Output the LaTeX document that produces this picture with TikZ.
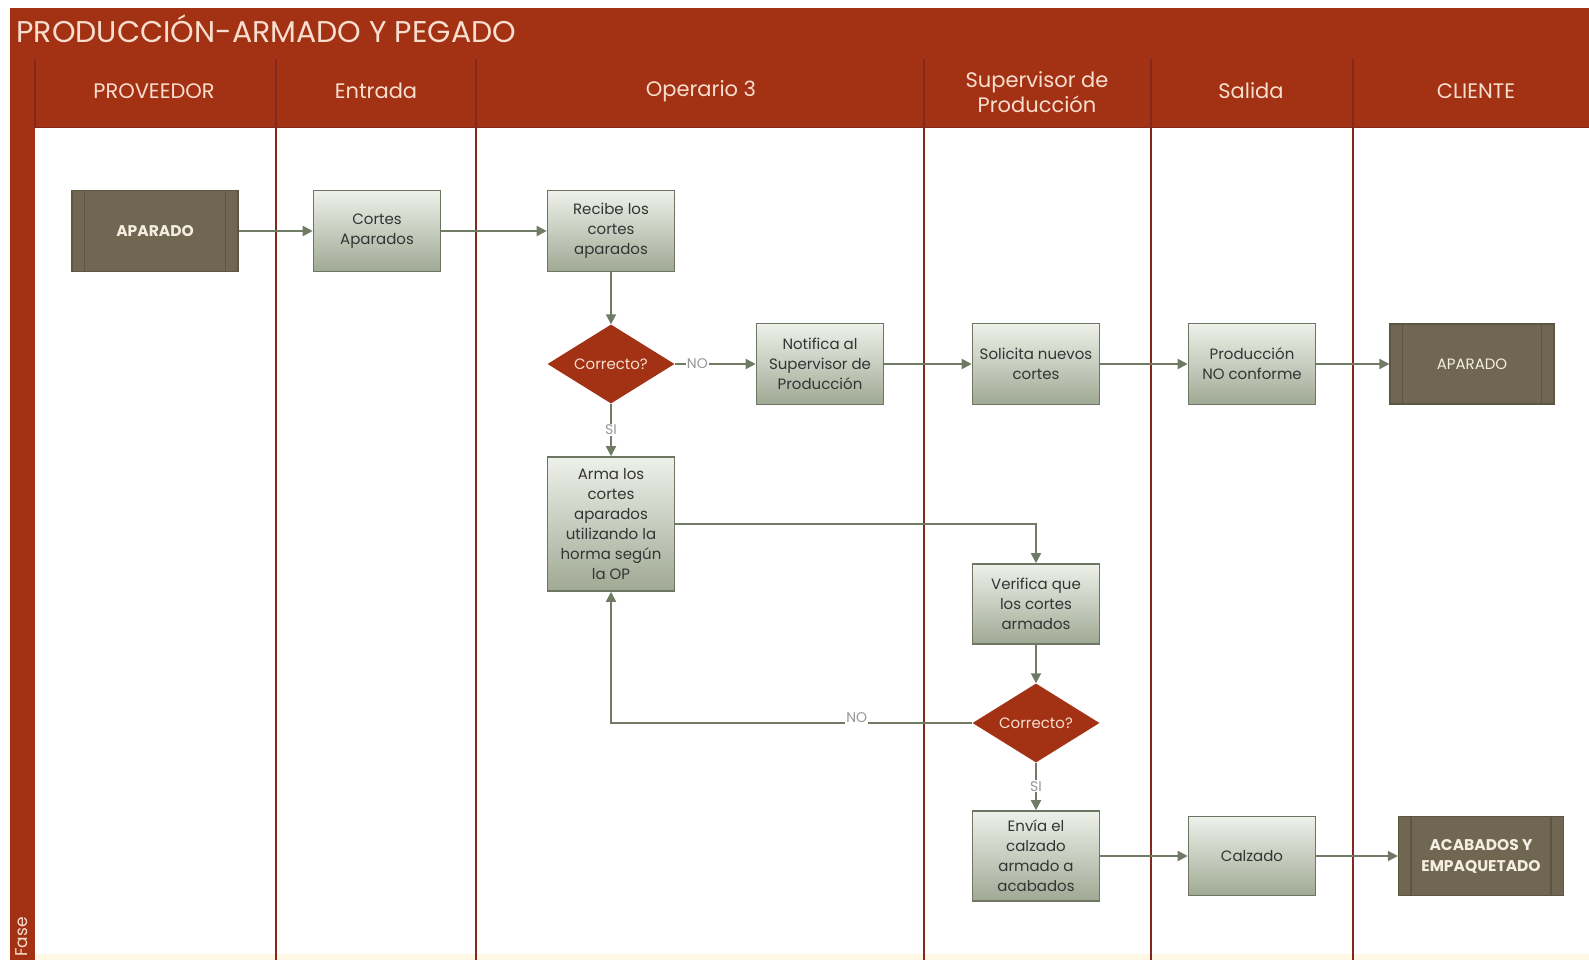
\documentclass[tikz,border=0pt]{standalone}
\usepackage{fontspec}
\setmainfont{Poppins}
\usetikzlibrary{shapes.geometric,arrows.meta,calc}

\definecolor{lanered}{RGB}{163,49,20}
\definecolor{laneline}{RGB}{130,40,28}
\definecolor{hdrtext}{RGB}{248,222,206}
\definecolor{boxtop}{RGB}{238,241,234}
\definecolor{boxbot}{RGB}{160,169,148}
\definecolor{boxedge}{RGB}{108,118,98}
\definecolor{boxtext}{RGB}{52,52,52}
\definecolor{darkfill}{RGB}{112,103,82}
\definecolor{darkedge}{RGB}{92,85,66}
\definecolor{darktext}{RGB}{245,238,225}
\definecolor{conn}{RGB}{112,122,100}
\definecolor{lblgray}{RGB}{150,150,150}
\definecolor{bottomband}{RGB}{253,247,228}

\tikzset{
  stepbox/.style={draw=boxedge, line width=1.6pt, top color=boxtop, bottom color=boxbot,
    minimum width=127pt, minimum height=81pt, inner sep=2pt, align=center,
    text=boxtext, font=\fontsize{15}{20}\selectfont},
  extbox/.style={draw=darkedge, line width=1.2pt, fill=darkfill,
    minimum width=166pt, minimum height=81pt, inner sep=2pt, align=center,
    text=darktext, font=\fontsize{14}{20}\selectfont},
  boldlabel/.style={font=\fontsize{15.5}{21}\selectfont\bfseries},
  decision/.style={diamond, aspect=1.6, fill=lanered, draw=none,
    minimum width=127pt, minimum height=79pt, inner sep=0pt,
    text=hdrtext, font=\fontsize{15}{18}\selectfont},
  hdr/.style={text=hdrtext, font=\fontsize{21}{25}\selectfont, align=center},
  conn/.style={draw=conn, line width=1.8pt, -{Triangle[length=10pt,width=10pt]}},
  lbl/.style={fill=white, text=lblgray, inner sep=1pt, font=\fontsize{14}{14}\selectfont},
  divider/.style={draw=laneline, line width=2pt},
}

% draws the inner side bars of an external-process box
\newcommand{\sidebars}[1]{%
  \draw[darkedge, line width=1.4pt] ([xshift=13pt]#1.north west) -- ([xshift=13pt]#1.south west);
  \draw[darkedge, line width=1.4pt] ([xshift=-13pt]#1.north east) -- ([xshift=-13pt]#1.south east);
}

\begin{document}
\begin{tikzpicture}[x=1pt,y=-1pt]
\useasboundingbox (0,0) rectangle (1589,960);
\fill[white] (0,0) rectangle (1589,960);
\fill[bottomband] (35,954) rectangle (1589,960);

% title bar, header row and phase strip
\fill[lanered] (10,8) rectangle (1589,128);
\fill[lanered] (10,8) rectangle (35,960);
\draw[laneline, line width=1.5pt] (35,59) -- (35,128);
\draw[laneline, line width=1pt] (35,128) -- (1589,128);

\node[text=hdrtext, font=\fontsize{30}{30}\selectfont, anchor=west] (title) at (13,29) {PRODUCCIÓN-ARMADO Y PEGADO};
\node[rotate=90, text=hdrtext, font=\fontsize{17}{17}\selectfont] (fase) at (22,937) {Fase};

% lane dividers
\foreach \x in {275.6,476.3,924.2,1151.2,1352.9}
  \draw[divider] (\x,59) -- (\x,960);

% lane headings
\node[hdr] (h1) at (154,91) {PROVEEDOR};
\node[hdr] (h2) at (376,91) {Entrada};
\node[hdr] (h3) at (701,91) {Operario 3};
\node[hdr] (h4) at (1037,92) {Supervisor de\\Producción};
\node[hdr] (h5) at (1251,91) {Salida};
\node[hdr] (h6) at (1476,91) {CLIENTE};

% process steps
\node[extbox, boldlabel] (ap1) at (155,231) {APARADO};
\sidebars{ap1}
\node[stepbox] (cortes) at (377,231) {Cortes\\Aparados};
\node[stepbox] (recibe) at (611,231) {Recibe los\\cortes\\aparados};
\node[decision] (d1) at (611,364) {Correcto?};
\node[stepbox] (notifica) at (820,364) {Notifica al\\Supervisor de\\Producción};
\node[stepbox] (solicita) at (1036,364) {Solicita nuevos\\cortes};
\node[stepbox] (prodno) at (1252,364) {Producción\\NO conforme};
\node[extbox, minimum width=164pt, minimum height=80pt, font=\fontsize{15}{20}\selectfont] (ap2) at (1472,364) {APARADO};
\sidebars{ap2}
\node[stepbox, minimum height=134pt] (arma) at (611,524) {Arma los\\cortes\\aparados\\utilizando la\\horma según\\la OP};
\node[stepbox, minimum height=80pt] (verifica) at (1036,604) {Verifica que\\los cortes\\armados};
\node[decision] (d2) at (1036,723) {Correcto?};
\node[stepbox, minimum height=90pt] (envia) at (1036,856) {Envía el\\calzado\\armado a\\acabados};
\node[stepbox, minimum height=79pt] (calzado) at (1252,856) {Calzado};
\node[extbox, boldlabel, minimum width=165pt, minimum height=79pt] (acab) at (1481,856) {ACABADOS Y\\EMPAQUETADO};
\sidebars{acab}

% connectors
\draw[conn] (ap1.east) -- (cortes.west);
\draw[conn] (cortes.east) -- (recibe.west);
\draw[conn] (recibe.south) -- (d1.north);
\draw[conn] (d1.east) -- node[lbl, pos=0.28] {NO} (notifica.west);
\draw[conn] (d1.south) -- node[lbl, pos=0.5] {SI} (arma.north);
\draw[conn] (notifica.east) -- (solicita.west);
\draw[conn] (solicita.east) -- (prodno.west);
\draw[conn] (prodno.east) -- (ap2.west);
\draw[conn] (arma.east) -| (verifica.north);
\draw[conn] (verifica.south) -- (d2.north);
\draw[conn] (d2.west) -| node[lbl, pos=0.16, yshift=5pt] {NO} (arma.south);
\draw[conn] (d2.south) -- node[lbl, pos=0.5] {SI} (envia.north);
\draw[conn] (envia.east) -- (calzado.west);
\draw[conn] (calzado.east) -- (acab.west);
\end{tikzpicture}
\end{document}
